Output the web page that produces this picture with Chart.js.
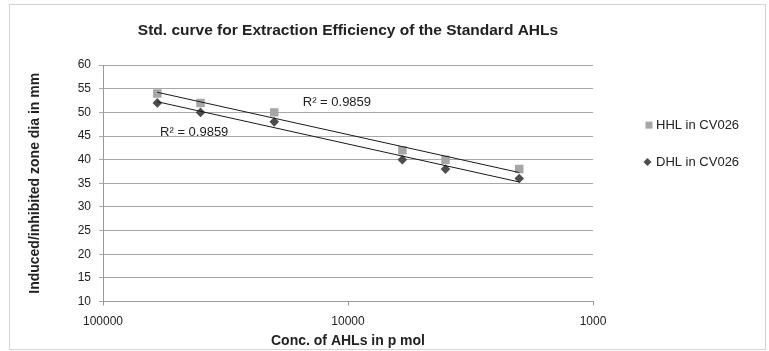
<!DOCTYPE html>
<html>
<head>
<meta charset="utf-8">
<title>Std. curve for Extraction Efficiency of the Standard AHLs</title>
<script src="https://cdn.jsdelivr.net/npm/chart.js@4.4.1/dist/chart.umd.min.js"></script>
<style>
    body { margin: 0; background: #fff; }
    canvas { display: block; }
</style>
</head>
<body>
<canvas id="stdCurve" width="769" height="351"></canvas>
<script>
// Concentrations of AHLs (p mol) and zone diameters (mm)
const concentrations = [60000, 40000, 20000, 6000, 4000, 2000];
const hhlZone = [54, 52, 50, 42, 40, 38];
const dhlZone = [52, 50, 48, 40, 38, 36];
const seriesNames = ['HHL in CV026', 'DHL in CV026'];
const xTickValues = [100000, 10000, 1000];

const hhlColor = '#a6a6a6';
const dhlColor = '#4d4d4d';
const trendColor = '#1a1a1a';

// Log trendline (like Excel): y = a * log10(x) + b, plus R squared
function logFit(xs, ys) {
    const lx = xs.map(v => Math.log10(v));
    const n = lx.length;
    const mx = lx.reduce((a, b) => a + b, 0) / n;
    const my = ys.reduce((a, b) => a + b, 0) / n;
    let sxy = 0, sxx = 0, syy = 0;
    for (let i = 0; i < n; i++) {
        sxy += (lx[i] - mx) * (ys[i] - my);
        sxx += (lx[i] - mx) ** 2;
        syy += (ys[i] - my) ** 2;
    }
    const slope = sxy / sxx;
    const intercept = my - slope * mx;
    const xMin = Math.min(...xs), xMax = Math.max(...xs);
    return {
        line: [xMax, xMin].map(x => ({ x: x, y: slope * Math.log10(x) + intercept })),
        r2: (sxy * sxy) / (sxx * syy)
    };
}

function toPoints(ys) {
    return concentrations.map((c, i) => ({ x: c, y: ys[i] }));
}

const hhlFit = logFit(concentrations, hhlZone);
const dhlFit = logFit(concentrations, dhlZone);

// R² labels, anchored in data units (left edge, middle)
const r2Labels = [
    { text: 'R² = ' + hhlFit.r2.toFixed(4), x: 15300, y: 52.2 },
    { text: 'R² = ' + dhlFit.r2.toFixed(4), x: 58500, y: 45.8 }
];

const frameAndLabels = {
    id: 'frameAndLabels',
    beforeDraw(chart) {
        const ctx = chart.ctx;
        ctx.save();
        ctx.fillStyle = '#fff';
        ctx.fillRect(0, 0, chart.width, chart.height);
        ctx.strokeStyle = '#d4d4d4';
        ctx.lineWidth = 1;
        ctx.strokeRect(9.5, 4.5, 756, 345);
        ctx.restore();
    },
    afterDraw(chart) {
        const ctx = chart.ctx;
        const xs = chart.scales.x, ys = chart.scales.y;
        const area = chart.chartArea;
        ctx.save();
        ctx.font = '13px "Liberation Sans", Arial, sans-serif';
        ctx.fillStyle = '#222';
        ctx.textBaseline = 'middle';
        ctx.textAlign = 'left';
        r2Labels.forEach(l => {
            ctx.fillText(l.text, xs.getPixelForValue(l.x), ys.getPixelForValue(l.y));
        });

        // legend to the right of the plot
        ctx.font = '13px "Liberation Sans", Arial, sans-serif';
        const lx = area.right + 56;
        const ly1 = area.top + 60;
        const ly2 = area.top + 97;
        ctx.fillStyle = hhlColor;
        ctx.fillRect(lx - 3.5, ly1 - 3.5, 7, 7);
        ctx.fillStyle = dhlColor;
        ctx.beginPath();
        ctx.moveTo(lx - 1.5, ly2 - 4);
        ctx.lineTo(lx + 2.5, ly2);
        ctx.lineTo(lx - 1.5, ly2 + 4);
        ctx.lineTo(lx - 5.5, ly2);
        ctx.closePath();
        ctx.fill();
        ctx.fillStyle = '#222';
        ctx.fillText(seriesNames[0], lx + 7, ly1);
        ctx.fillText(seriesNames[1], lx + 7, ly2);
        ctx.restore();
    }
};

Chart.defaults.font.family = '"Liberation Sans", Arial, sans-serif';
Chart.defaults.color = '#222';

const ctx = document.getElementById('stdCurve').getContext('2d');
const stdChart = new Chart(ctx, {
    type: 'scatter',
    data: {
        datasets: [
            {
                label: seriesNames[0],
                data: toPoints(hhlZone),
                pointStyle: 'rect',
                pointRadius: 6,
                pointHoverRadius: 6,
                backgroundColor: hhlColor,
                borderColor: hhlColor,
                borderWidth: 0,
                order: 1
            },
            {
                label: seriesNames[1],
                data: toPoints(dhlZone),
                pointStyle: 'rectRot',
                pointRadius: 4.8,
                pointHoverRadius: 4.8,
                backgroundColor: dhlColor,
                borderColor: dhlColor,
                borderWidth: 0,
                order: 1
            },
            {
                label: 'HHL trend',
                type: 'line',
                data: hhlFit.line,
                showLine: true,
                pointRadius: 0,
                borderColor: trendColor,
                borderWidth: 1,
                order: 0
            },
            {
                label: 'DHL trend',
                type: 'line',
                data: dhlFit.line,
                showLine: true,
                pointRadius: 0,
                borderColor: trendColor,
                borderWidth: 1,
                order: 0
            }
        ]
    },
    options: {
        responsive: false,
        animation: false,
        layout: {
            padding: { top: 4, left: 9, right: 176, bottom: 0 }
        },
        plugins: {
            legend: { display: false },
            tooltip: { enabled: false },
            title: {
                display: true,
                fullSize: false,
                text: 'Std. curve for Extraction Efficiency of the Standard AHLs',
                font: { size: 15.5, weight: 'bold' },
                color: '#222',
                padding: { top: 17.5, bottom: 25 }
            }
        },
        scales: {
            x: {
                type: 'logarithmic',
                reverse: true,
                min: 1000,
                max: 100000,
                afterBuildTicks: axis => {
                    axis.ticks = xTickValues.map(v => ({ value: v }));
                },
                afterFit: axis => { axis.height = 49.5; },
                ticks: {
                    font: { size: 12 },
                    color: '#222',
                    padding: 9.3,
                    maxRotation: 0,
                    callback: value => String(value)
                },
                grid: {
                    drawOnChartArea: false,
                    tickLength: 4,
                    color: '#999'
                },
                border: { display: true, color: '#999' },
                title: {
                    display: true,
                    text: 'Conc. of AHLs in p mol',
                    font: { size: 14, weight: 'bold' },
                    color: '#222',
                    padding: { top: 3, bottom: 1 }
                }
            },
            y: {
                min: 10,
                max: 60,
                afterFit: axis => { axis.width = 94; },
                ticks: {
                    stepSize: 5,
                    font: { size: 12 },
                    color: '#222',
                    padding: 8
                },
                grid: {
                    color: '#a8a8a8',
                    tickLength: 4
                },
                border: { display: true, color: '#999' },
                title: {
                    display: true,
                    text: 'Induced/inhibited zone dia in mm',
                    font: { size: 14, weight: 'bold' },
                    color: '#222',
                    padding: { top: 17.6, bottom: 20 }
                }
            }
        }
    },
    plugins: [frameAndLabels]
});
</script>
</body>
</html>
